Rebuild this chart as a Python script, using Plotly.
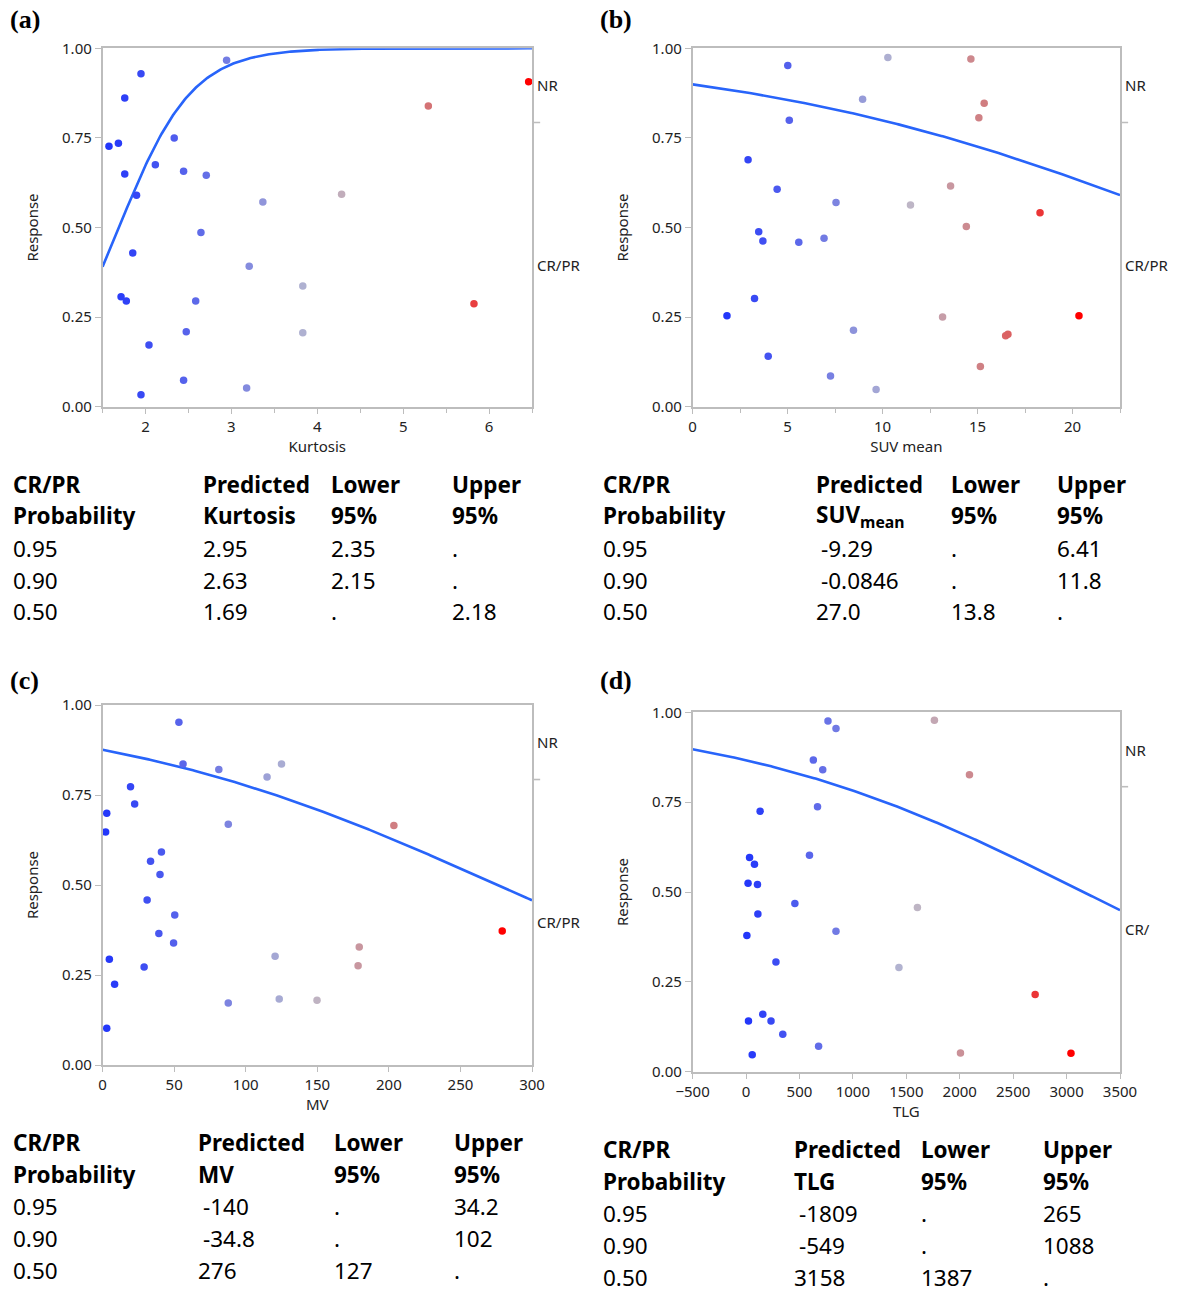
import numpy as np
import plotly.graph_objects as go

W, H = 1183, 1292

# ---------------- data ----------------
kurtosis = [1.574, 1.684, 1.758, 1.947, 1.758, 1.895, 1.851, 1.715, 1.776, 2.040,
            1.947, 2.334, 2.114, 2.443, 2.707, 2.645, 2.584, 2.474, 2.443, 2.944,
            3.366, 3.207, 3.177, 3.831, 3.831, 4.283, 5.293, 5.824, 6.461]
kurtosis_resp = [0.727, 0.735, 0.861, 0.929, 0.649, 0.590, 0.429, 0.307, 0.295, 0.172,
                 0.033, 0.750, 0.675, 0.657, 0.646, 0.486, 0.295, 0.209, 0.074, 0.967,
                 0.571, 0.392, 0.052, 0.337, 0.206, 0.593, 0.839, 0.287, 0.907]

suv_mean = [1.81, 2.92, 3.26, 3.48, 3.70, 3.98, 4.45, 5.01, 5.09, 5.59,
            6.92, 7.55, 7.26, 8.47, 8.95, 9.66, 10.28, 11.47, 13.16, 13.58,
            14.41, 14.65, 15.07, 15.15, 15.35, 16.48, 16.60, 18.29, 20.34]
suv_resp = [0.254, 0.689, 0.302, 0.488, 0.462, 0.141, 0.607, 0.952, 0.799, 0.459,
            0.470, 0.570, 0.086, 0.213, 0.858, 0.048, 0.974, 0.563, 0.250, 0.616,
            0.503, 0.970, 0.806, 0.112, 0.847, 0.198, 0.202, 0.541, 0.254]

mv = [2.9, 2.1, 4.7, 8.4, 2.9, 19.5, 22.4, 29.0, 31.1, 33.5,
      39.3, 40.1, 41.1, 49.6, 50.4, 53.3, 56.2, 81.2, 87.8, 87.8,
      114.9, 120.5, 123.4, 125.0, 149.8, 178.5, 179.3, 203.5, 279.2]
mv_resp = [0.699, 0.647, 0.294, 0.224, 0.102, 0.773, 0.725, 0.272, 0.458, 0.566,
           0.365, 0.529, 0.592, 0.339, 0.417, 0.952, 0.836, 0.821, 0.669, 0.172,
           0.800, 0.302, 0.183, 0.836, 0.180, 0.276, 0.328, 0.665, 0.372]

tlg = [33, 79, 19, 107, 111, 8, 132, 23, 157, 234,
       58, 280, 344, 457, 594, 630, 669, 679, 718, 767,
       842, 842, 1431, 1604, 1763, 2007, 2091, 2706, 3041]
tlg_resp = [0.596, 0.577, 0.524, 0.521, 0.439, 0.379, 0.725, 0.141, 0.160, 0.141,
            0.047, 0.305, 0.104, 0.468, 0.602, 0.867, 0.737, 0.071, 0.840, 0.976,
            0.955, 0.391, 0.290, 0.457, 0.978, 0.052, 0.826, 0.215, 0.051]

# inverse-prediction tables (probability of CR/PR -> predicted value, 95% limits)
probabilities = ["0.95", "0.90", "0.50"]
kurt_pred = ["2.95", "2.63", "1.69"]
kurt_lower = ["2.35", "2.15", "."]
kurt_upper = [".", ".", "2.18"]
suv_pred = ["-9.29", "-0.0846", "27.0"]
suv_lower = [".", ".", "13.8"]
suv_upper = ["6.41", "11.8", "."]
mv_pred = ["-140", "-34.8", "276"]
mv_lower = [".", ".", "127"]
mv_upper = ["34.2", "102", "."]
tlg_pred = ["-1809", "-549", "3158"]
tlg_lower = [".", ".", "1387"]
tlg_upper = ["265", "1088", "."]

# share of the response axis taken by CR/PR (category boundary on the right axis)
crpr_share = 0.793

# ---------------- styling ----------------
FONT = "Noto Sans"
AXIS_GREY = "#bdbdbd"
CURVE = "rgb(40,100,250)"
POINT_SCALE = [
    [0.0, "rgb(35,55,250)"],
    [0.25, "rgb(105,115,230)"],
    [0.5, "rgb(188,188,205)"],
    [0.75, "rgb(210,120,122)"],
    [1.0, "rgb(255,0,0)"],
]


def px_box(x0, x1, y0, y1):
    return [x0 / W, x1 / W], [1 - y1 / H, 1 - y0 / H]


panels = [
    dict(key="a", x=kurtosis, y=kurtosis_resp, title="Kurtosis", rng=[1.5, 6.5],
         dtick=1, minor=0.5, box=px_box(102.6, 532, 48.3, 406.7),
         pred=kurt_pred, lower=kurt_lower, upper=kurt_upper, crlabel="CR/PR",
         head="Kurtosis", letter_xy=(8, 20),
         table_x=[14, 204, 332, 453], table_y=[484, 516, 548, 580, 612]),
    dict(key="b", x=suv_mean, y=suv_resp, title="SUV mean", rng=[0, 22.5],
         dtick=5, minor=2.5, box=px_box(692.6, 1120, 48.3, 406.7),
         pred=suv_pred, lower=suv_lower, upper=suv_upper, crlabel="CR/PR",
         head="SUV<sub>mean</sub>", letter_xy=(598, 20),
         table_x=[604, 817, 952, 1058], table_y=[484, 516, 548, 580, 612]),
    dict(key="c", x=mv, y=mv_resp, title="MV", rng=[0, 300],
         dtick=50, minor=None, box=px_box(102.6, 532, 705, 1065),
         pred=mv_pred, lower=mv_lower, upper=mv_upper, crlabel="CR/PR",
         head="MV", letter_xy=(8, 680),
         table_x=[14, 199, 335, 455], table_y=[1142, 1174, 1206, 1238, 1270]),
    dict(key="d", x=tlg, y=tlg_resp, title="TLG", rng=[-500, 3500],
         dtick=500, minor=None, box=px_box(692.6, 1120, 712.3, 1071.7),
         pred=tlg_pred, lower=tlg_lower, upper=tlg_upper, crlabel="CR/",
         head="TLG", letter_xy=(598, 680),
         table_x=[604, 795, 922, 1044], table_y=[1149, 1181, 1213, 1245, 1277]),
]

fig = go.Figure()
annotations = []
shapes = []
layout_axes = {}

logit95 = np.log(0.95 / 0.05)

for i, p in enumerate(panels):
    n = "" if i == 0 else str(i + 1)
    xa, ya = "x" + n, "y" + n

    # logistic fit recovered from the 50% and 95% inverse predictions
    x50 = float(p["pred"][2])
    x95 = float(p["pred"][0])
    slope = logit95 / (x95 - x50)
    xs = np.linspace(p["rng"][0], p["rng"][1], 300)
    ps = 1.0 / (1.0 + np.exp(-slope * (xs - x50)))

    fig.add_trace(go.Scatter(x=xs, y=ps, mode="lines", xaxis=xa, yaxis=ya,
                             line=dict(color=CURVE, width=2.6), hoverinfo="skip",
                             showlegend=False))
    fig.add_trace(go.Scatter(
        x=p["x"], y=p["y"], mode="markers", xaxis=xa, yaxis=ya, showlegend=False,
        marker=dict(size=7.5, color=p["x"], colorscale=POINT_SCALE,
                    cmin=min(p["x"]), cmax=max(p["x"]), line=dict(width=0))))

    xdom, ydom = p["box"]
    xaxis = dict(domain=xdom, anchor=ya, range=p["rng"], dtick=p["dtick"],
                 tick0=0, showline=True, linecolor=AXIS_GREY, linewidth=1.6,
                 mirror=True, ticks="outside", ticklen=5, tickcolor=AXIS_GREY,
                 tickwidth=1.2, showgrid=False, zeroline=False, automargin=False,
                 tickfont=dict(family=FONT, size=15, color="#222"),
                 title=dict(text=p["title"], standoff=4,
                            font=dict(family=FONT, size=15, color="#222")))
    if p["minor"]:
        xaxis["minor"] = dict(dtick=p["minor"], tick0=0, ticks="outside",
                              ticklen=4, tickcolor=AXIS_GREY, tickwidth=1.2)
    yaxis = dict(domain=ydom, anchor=xa, range=[0, 1], dtick=0.25,
                 tickformat=".2f", showline=True, linecolor=AXIS_GREY,
                 linewidth=1.6, mirror=True, ticks="outside", ticklen=6,
                 tickcolor=AXIS_GREY, tickwidth=1.2, showgrid=False,
                 zeroline=False, automargin=False,
                 tickfont=dict(family=FONT, size=15, color="#222"),
                 title=dict(text="Response", standoff=20,
                            font=dict(family=FONT, size=15, color="#222")))
    layout_axes["xaxis" + n] = xaxis
    layout_axes["yaxis" + n] = yaxis

    # response categories on the right side
    xd = xa + " domain"
    shapes.append(dict(type="line", xref=xd, yref=ya, x0=1, x1=1.019,
                       y0=crpr_share, y1=crpr_share,
                       line=dict(color=AXIS_GREY, width=1.6)))
    for label, yv in [("NR", (1 + crpr_share) / 2), (p["crlabel"], crpr_share / 2)]:
        annotations.append(dict(text=label, xref=xd, yref=ya, x=1, y=yv,
                                xanchor="left", yanchor="middle", xshift=3,
                                showarrow=False,
                                font=dict(family=FONT, size=15, color="#222")))

    # panel letter
    lx, ly = p["letter_xy"]
    annotations.append(dict(text="<b>(" + p["key"] + ")</b>", xref="paper",
                            yref="paper", x=lx / W, y=1 - ly / H, xanchor="left",
                            yanchor="middle", showarrow=False,
                            font=dict(family="Liberation Serif", size=26,
                                      color="black")))

    # inverse prediction table
    tx = p["table_x"]
    ty = p["table_y"]
    headers = [("CR/PR", "Probability"), ("Predicted", p["head"]),
               ("Lower", "95%"), ("Upper", "95%")]
    for c, (h1, h2) in enumerate(headers):
        for r, h in enumerate([h1, h2]):
            annotations.append(dict(text="<b>" + h + "</b>", xref="paper",
                                    yref="paper", x=tx[c] / W, y=1 - ty[r] / H,
                                    xanchor="left", yanchor="middle", xshift=-3,
                                    showarrow=False,
                                    font=dict(family=FONT, size=22.5,
                                              color="black")))
    columns = [probabilities, p["pred"], p["lower"], p["upper"]]
    for c, col in enumerate(columns):
        for r, val in enumerate(col):
            shift = 2 if val.startswith("-") else -3
            annotations.append(dict(text=val, xref="paper", yref="paper",
                                    x=tx[c] / W, y=1 - ty[r + 2] / H,
                                    xanchor="left", yanchor="middle",
                                    xshift=shift, showarrow=False,
                                    font=dict(family=FONT, size=22.5,
                                              color="black")))

fig.update_layout(
    width=W, height=H, margin=dict(l=0, r=0, t=0, b=0, autoexpand=False),
    paper_bgcolor="white", plot_bgcolor="white",
    annotations=annotations, shapes=shapes, **layout_axes,
)

fig.write_html("out.html")
